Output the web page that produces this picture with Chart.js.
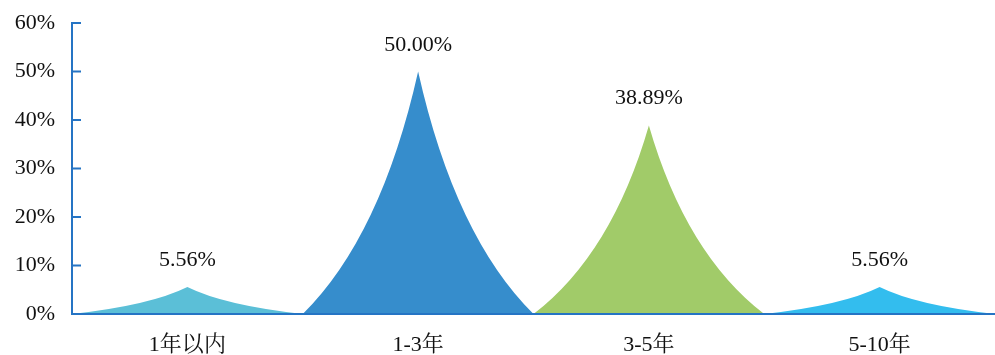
<!DOCTYPE html>
<html>
<head>
<meta charset="utf-8">
<script src="https://cdn.jsdelivr.net/npm/chart.js@4/dist/chart.umd.min.js"></script>
<style>
  html, body { margin: 0; padding: 0; background: #fff; }
  #wrap { width: 995px; height: 355px; }
</style>
</head>
<body>
<div id="wrap"><canvas id="spikeChart"></canvas></div>
<script>
// data
const categories = ['1年以内', '1-3年', '3-5年', '5-10年'];
const shares = [5.56, 50.00, 38.89, 5.56];
const spikeColors = ['#5bbfd7', '#368dcc', '#a1cb69', '#33bdee'];
const yTicks = [0, 10, 20, 30, 40, 50, 60];

const AXIS_BLUE = '#2574c4';
const FONT = '"Liberation Serif", "Times New Roman", "Noto Serif CJK SC", "Noto Sans CJK SC", serif';

// concave spike instead of a rectangle, plus value label on top
const spikePlugin = {
    id: 'spikes',
    afterDatasetsDraw(chart) {
        const ctx = chart.ctx;
        const meta = chart.getDatasetMeta(0);
        meta.data.forEach((bar, i) => {
            const half = bar.width / 2;
            const h = bar.base - bar.y;
            const k = 0.32;
            ctx.save();
            ctx.fillStyle = spikeColors[i];
            ctx.beginPath();
            ctx.moveTo(bar.x - half, bar.base);
            ctx.quadraticCurveTo(bar.x - half * k, bar.base - h * k, bar.x, bar.y);
            ctx.quadraticCurveTo(bar.x + half * k, bar.base - h * k, bar.x + half, bar.base);
            ctx.closePath();
            ctx.fill();

            ctx.fillStyle = '#111';
            ctx.font = '22px ' + FONT;
            ctx.textAlign = 'center';
            ctx.textBaseline = 'alphabetic';
            ctx.fillText(shares[i].toFixed(2) + '%', bar.x, bar.y - 21);
            ctx.restore();
        });

        // axis lines and inward tick marks
        const y = chart.scales.y;
        const area = chart.chartArea;
        ctx.save();
        ctx.strokeStyle = AXIS_BLUE;
        ctx.lineWidth = 2;
        ctx.beginPath();
        ctx.moveTo(area.left, y.getPixelForValue(60) - 1);
        ctx.lineTo(area.left, area.bottom);
        ctx.lineTo(area.right, area.bottom);
        yTicks.forEach(v => {
            const py = y.getPixelForValue(v);
            ctx.moveTo(area.left, py);
            ctx.lineTo(area.left + 9, py);
        });
        ctx.stroke();
        ctx.restore();
    }
};

new Chart(document.getElementById('spikeChart'), {
    type: 'bar',
    data: {
        labels: categories,
        datasets: [{
            data: shares,
            backgroundColor: 'rgba(0,0,0,0)',
            barPercentage: 1,
            categoryPercentage: 1
        }]
    },
    options: {
        animation: false,
        responsive: true,
        maintainAspectRatio: false,
        layout: { padding: { top: 23, right: 0, left: 0, bottom: 0 } },
        plugins: {
            legend: { display: false },
            tooltip: { enabled: false }
        },
        scales: {
            x: {
                grid: { display: false, drawTicks: false },
                border: { display: false },
                ticks: { color: '#111', font: { size: 22, family: FONT }, padding: 18 },
                afterFit(s) { s.height = 41; s.paddingLeft = 0; s.paddingRight = 0; }
            },
            y: {
                min: 0,
                max: 60,
                grid: { display: false, drawTicks: false },
                border: { display: false },
                ticks: {
                    stepSize: 10,
                    color: '#111',
                    font: { size: 22, family: FONT },
                    padding: 17,
                    callback: v => v + '%'
                },
                afterFit(s) { s.width = 72; s.paddingTop = 0; s.paddingBottom = 0; }
            }
        }
    },
    plugins: [spikePlugin]
});
</script>
</body>
</html>
